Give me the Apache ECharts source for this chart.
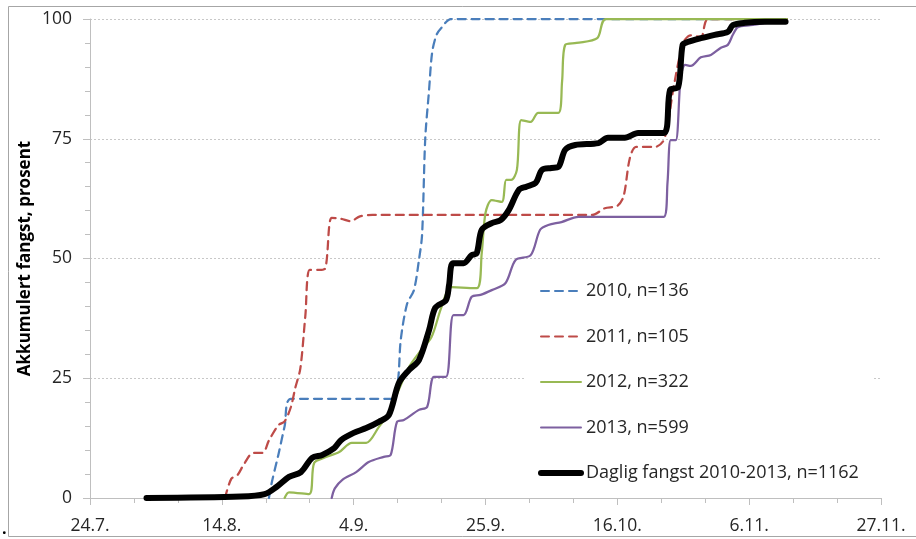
<!DOCTYPE html>
<html>
<head>
<meta charset="utf-8">
<script src="https://cdn.jsdelivr.net/npm/echarts@6.0.0/dist/echarts.min.js"></script>
<style>
	html, body { margin: 0; padding: 0; background: #fff; }
	#chart { width: 916px; height: 539px; }
</style>
</head>
<body>
<div id="chart"></div>
<script>
// x = days after 24.7., y = accumulated catch in percent
var tickLabels = ['24.7.', '14.8.', '4.9.', '25.9.', '16.10.', '6.11.', '27.11.'];
var seriesNames = ['2010, n=136', '2011, n=105', '2012, n=322', '2013, n=599', 'Daglig fangst 2010-2013, n=1162'];

var data2010 = [
	[28.5, 0], [29, 3.5], [30, 9], [31, 15], [32, 20.7], [48, 20.7], [49, 24], [49.5, 33],
	[50.5, 40.5], [51.6, 43.4], [52.4, 49.7], [52.9, 55], [53.4, 75], [54, 85], [54.5, 93],
	[55.2, 96.7], [56, 98.2], [57.5, 100], [111, 100]
];
var data2011 = [
	[21.5, 0], [22.5, 4], [23.5, 4.8], [24.5, 7], [26, 9.4], [27.5, 9.4], [28.5, 12], [30, 15.2],
	[31, 16], [32, 19], [32.7, 23], [33.5, 27], [34.3, 38], [35, 47.6], [36.5, 47.6], [37.5, 48],
	[38.5, 58.5], [40, 58.3], [41.5, 57.8], [43, 58.8], [45, 59.1], [80, 59.1], [82, 60.5],
	[84, 61], [85, 63], [86, 71], [87, 73.3], [90, 73.3], [91.5, 75], [93, 86], [94.5, 95],
	[95.7, 96.6], [97.3, 96.2], [98.5, 100], [111, 100]
];
var data2012 = [
	[31, 0], [31.7, 1.2], [34.9, 0.8], [35.7, 7.3], [37.3, 8.4], [39.7, 9.6], [41.7, 11.5],
	[44, 11.5], [46, 14.8], [47.6, 17.7], [49, 22], [50.8, 27.3], [52.4, 30.3], [54.4, 33.6],
	[56, 39.9], [57.6, 44], [61.6, 43.8], [62.4, 51.1], [63, 59.5], [64, 62.2], [65.6, 61.8],
	[66.3, 66.4], [67.1, 66.4], [68, 68.5], [68.7, 78.9], [70.2, 78.5], [71.4, 80.4],
	[74.6, 80.4], [75.2, 87], [75.7, 94.6], [77.5, 95], [80.8, 96], [82.2, 100], [111, 100]
];
var data2013 = [
	[38.5, 0], [39, 2], [40.2, 3.8], [42.4, 5.4], [44.4, 7.5], [46.8, 8.6], [47.9, 9],
	[48.9, 15.9], [50, 16.3], [52.4, 18.4], [53.7, 19], [54.8, 25.3], [56.7, 25.3], [57.9, 38.2],
	[59.5, 38.2], [60.8, 42], [62.2, 42.4], [64, 43.4], [66.2, 44.9], [67.8, 49.7], [70.2, 50.7],
	[71.7, 56], [73, 57], [75.1, 57.6], [77.8, 58.7], [91.4, 58.7], [92, 66], [92.5, 74.7],
	[93.3, 74.7], [94.1, 87.9], [94.8, 90.4], [95.7, 90.2], [97.3, 92], [98.9, 92.5], [100.5, 94],
	[101.6, 94.6], [102.4, 96.7], [103.2, 98.3], [105.2, 98.7], [109, 99.4], [111, 99.5]
];
var dataAll = [
	[9, 0], [24, 0.3], [27.8, 0.8], [29.7, 2.3], [31.7, 4.4], [33.6, 5.4], [35.4, 8.4], [37, 9],
	[38.9, 10.4], [40, 12.1], [42, 13.6], [44, 14.6], [46, 15.9], [47.6, 17.3], [49.2, 24],
	[50.8, 26.7], [52.4, 28.8], [54, 35], [55, 39.7], [56.7, 41.3], [57.2, 44.5], [57.8, 49],
	[59.5, 49], [60.8, 50.7], [61.6, 51.1], [62.4, 56], [64, 57.4], [65.4, 58], [66.7, 60.1],
	[68.3, 64.3], [69.5, 65], [71, 65.8], [72, 68.5], [73.5, 68.9], [74.6, 69.1], [75.7, 72.7],
	[77.3, 73.7], [81, 74.1], [82.5, 75.2], [85.2, 75.2], [87.3, 76.2], [91.4, 76.2], [92.4, 85.2],
	[93.7, 85.8], [94.4, 94.6], [95.2, 95.2], [97.3, 96], [99.5, 96.7], [101.6, 97.3],
	[102.4, 98.7], [104.3, 99.2], [107.5, 99.4], [110.8, 99.4]
];

var fontFamily = '"Open Sans", sans-serif';
var axisGray = '#bfbfbf';

function lineSeries(name, data, color, width, dash) {
	return {
		name: name,
		type: 'line',
		data: data,
		smooth: 0.3,
		symbol: 'none',
		color: color,
		lineStyle: { color: color, width: width, type: dash || 'solid', cap: 'round' }
	};
}

var legendItems = seriesNames.map(function (name, i) {
	if (i === 4) {
		return { name: name, lineStyle: { width: 6, cap: 'round' } };
	}
	return { name: name };
});

var myChart = echarts.init(document.getElementById('chart'));
var option = {
	animation: false,
	backgroundColor: '#fff',
	textStyle: { fontFamily: fontFamily },
	graphic: [
		{
			type: 'rect',
			shape: { x: 8.5, y: 6.5, width: 920, height: 530 },
			style: { fill: 'none', stroke: '#a6a6a6', lineWidth: 1 },
			silent: true
		},
		{
			type: 'text',
			left: 2, top: 521,
			style: { text: '.', fontSize: 16, fontWeight: 'bold', fill: '#000', fontFamily: fontFamily }
		}
	],
	grid: { left: 90, right: 35, top: 19, bottom: 41 },
	legend: {
		orient: 'vertical',
		left: 525,
		top: 272,
		padding: [10, 14, 10, 13],
		itemWidth: 40,
		itemHeight: 14,
		itemGap: 27.5,
		backgroundColor: '#fff',
		itemStyle: { opacity: 0 },
		textStyle: { fontSize: 18, color: '#262626', fontFamily: fontFamily },
		data: legendItems
	},
	xAxis: {
		type: 'value',
		min: 0,
		max: 126,
		interval: 21,
		axisLine: { lineStyle: { color: axisGray } },
		axisTick: { show: true, length: 7, lineStyle: { color: axisGray } },
		minorTick: { show: true, splitNumber: 3, length: 5, lineStyle: { color: axisGray } },
		splitLine: { show: false },
		axisLabel: {
			margin: 19,
			fontSize: 17.5,
			color: '#262626',
			formatter: function (val) {
				return tickLabels[Math.round(val / 21)];
			}
		}
	},
	yAxis: {
		type: 'value',
		min: 0,
		max: 100,
		interval: 25,
		name: 'Akkumulert fangst, prosent',
		nameLocation: 'middle',
		nameGap: 56,
		nameMoveOverlap: false,
		nameTextStyle: { fontSize: 17, fontWeight: 'bold', color: '#000', fontFamily: fontFamily },
		axisLine: { show: true, lineStyle: { color: axisGray } },
		axisTick: { show: true, length: 7, lineStyle: { color: axisGray } },
		minorTick: { show: true, splitNumber: 5, length: 5, lineStyle: { color: axisGray } },
		splitLine: { show: true, lineStyle: { color: '#c8c8c8', type: [2, 2] } },
		axisLabel: { margin: 18, fontSize: 17.5, color: '#262626' }
	},
	series: [
		lineSeries(seriesNames[0], data2010, '#4a7ebb', 2.25, [8, 6]),
		lineSeries(seriesNames[1], data2011, '#be4b48', 2.25, [8, 6]),
		lineSeries(seriesNames[2], data2012, '#98b954', 2.25),
		lineSeries(seriesNames[3], data2013, '#7d60a0', 2.25),
		lineSeries(seriesNames[4], dataAll, '#000000', 6)
	]
};
myChart.setOption(option);
</script>
</body>
</html>
